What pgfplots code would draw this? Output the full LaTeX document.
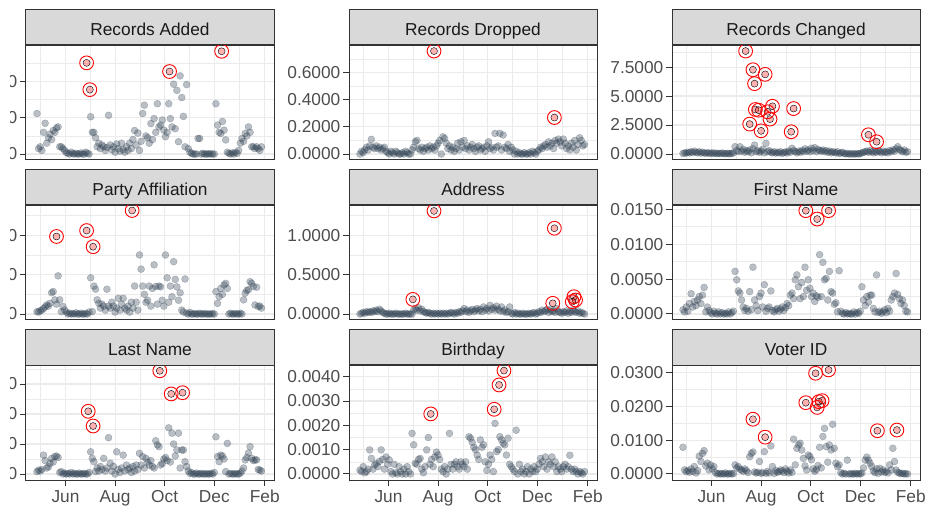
\documentclass[border=0pt]{standalone}
\usepackage{pgfplots}
\usepackage{pgfplotstable}
\pgfplotsset{compat=1.18}
\usepackage{fontspec}
\setmainfont{Liberation Sans}

\definecolor{pt}{HTML}{2C3E50}
\definecolor{gridc}{HTML}{EBEBEB}
\definecolor{frame}{HTML}{333333}
\definecolor{strip}{HTML}{D9D9D9}
\definecolor{tlab}{HTML}{4D4D4D}
\definecolor{stxt}{HTML}{1A1A1A}
\definecolor{hi}{HTML}{FF0000}

% daily share per check, days counted from 1 Jan (Jun=151 ... Feb=396)
\pgfplotstableread[row sep=\\]{d v\\
116 1.12\\ 118 0.15\\ 120 0.2\\ 122 0.1\\ 124 0.6\\ 126 0.85\\ 128 0.3\\ 130 0.45\\ 132 0.55\\ 134 0.4\\ 136 0.65\\ 138 0.6\\ 140 0.72\\ 142 0.75\\ 144 0.2\\ 146 0.2\\ 148 0.15\\ 150 0.1\\ 152 0.04\\ 154 0.02\\ 156 0.0\\ 158 0.05\\ 160 0.01\\ 162 0.0\\ 164 0.02\\ 166 0.0\\ 168 0.0\\ 170 0.03\\ 172 0.0\\ 174 0.0\\ 176 0.05\\ 178 0.02\\ 180 0.0\\ 182 1.03\\ 184 0.6\\ 186 0.6\\ 188 0.45\\ 190 0.2\\ 192 0.3\\ 194 0.15\\ 196 0.25\\ 198 0.2\\ 200 0.1\\ 202 0.18\\ 204 1.07\\ 206 0.25\\ 208 0.12\\ 210 0.2\\ 212 0.05\\ 214 0.28\\ 216 0.15\\ 218 0.08\\ 220 0.3\\ 222 0.12\\ 224 0.05\\ 226 0.2\\ 228 0.1\\ 230 0.3\\ 232 0.15\\ 234 0.4\\ 236 0.65\\ 238 0.25\\ 240 0.58\\ 242 0.1\\ 244 0.35\\ 246 1.12\\ 248 1.35\\ 250 0.5\\ 252 0.45\\ 254 0.3\\ 256 0.84\\ 258 0.4\\ 260 0.98\\ 262 0.6\\ 264 1.39\\ 266 0.75\\ 268 0.8\\ 270 0.94\\ 272 0.66\\ 274 0.48\\ 276 0.6\\ 278 1.39\\ 280 0.98\\ 282 0.75\\ 284 1.93\\ 286 0.7\\ 288 1.76\\ 290 0.34\\ 292 2.16\\ 294 1.56\\ 296 1.04\\ 298 0.2\\ 300 1.92\\ 302 0.15\\ 304 0.05\\ 306 0.02\\ 308 0.0\\ 310 0.0\\ 312 0.0\\ 314 0.43\\ 316 0.43\\ 318 0.0\\ 320 0.02\\ 322 0.0\\ 324 0.0\\ 326 0.0\\ 328 0.01\\ 330 0.0\\ 332 0.0\\ 334 0.0\\ 336 1.39\\ 338 0.8\\ 340 0.6\\ 342 0.57\\ 344 0.9\\ 346 0.66\\ 348 0.39\\ 350 0.05\\ 352 0.02\\ 354 0.0\\ 356 0.03\\ 358 0.0\\ 360 0.05\\ 362 0.02\\ 364 0.1\\ 366 0.3\\ 368 0.43\\ 370 0.35\\ 372 0.57\\ 374 0.5\\ 376 0.75\\ 378 0.6\\ 380 0.2\\ 382 0.2\\ 384 0.15\\ 386 0.2\\ 388 0.15\\ 390 0.1\\ 392 0.2\\
}\dA
\pgfplotstableread[row sep=\\]{d v\\ 177 2.52\\ 181 1.78\\ 279 2.28\\ 343 2.84\\}\oA

\pgfplotstableread[row sep=\\]{d v\\
116 0.0\\ 118 0.02\\ 120 0.01\\ 122 0.03\\ 124 0.05\\ 126 0.03\\ 128 0.06\\ 130 0.108\\ 132 0.05\\ 134 0.04\\ 136 0.06\\ 138 0.04\\ 140 0.05\\ 142 0.03\\ 144 0.04\\ 146 0.05\\ 148 0.02\\ 150 0.01\\ 152 0.0\\ 154 0.02\\ 156 0.01\\ 158 0.0\\ 160 0.02\\ 162 0.01\\ 164 0.0\\ 166 0.0\\ 168 0.01\\ 170 0.0\\ 172 0.02\\ 174 0.01\\ 176 0.0\\ 178 0.0\\ 180 0.03\\ 182 0.05\\ 184 0.09\\ 186 0.1\\ 188 0.04\\ 190 0.03\\ 192 0.05\\ 194 0.02\\ 196 0.04\\ 198 0.05\\ 200 0.03\\ 202 0.06\\ 204 0.04\\ 206 0.05\\ 208 0.03\\ 210 0.06\\ 212 0.08\\ 214 0.1\\ 216 0.0\\ 218 0.127\\ 220 0.115\\ 222 0.08\\ 224 0.04\\ 226 0.06\\ 228 0.03\\ 230 0.05\\ 232 0.02\\ 234 0.04\\ 236 0.08\\ 238 0.03\\ 240 0.09\\ 242 0.05\\ 244 0.1\\ 246 0.04\\ 248 0.06\\ 250 0.03\\ 252 0.05\\ 254 0.07\\ 256 0.04\\ 258 0.02\\ 260 0.05\\ 262 0.06\\ 264 0.03\\ 266 0.04\\ 268 0.05\\ 270 0.02\\ 272 0.06\\ 274 0.09\\ 276 0.04\\ 278 0.05\\ 280 0.03\\ 282 0.152\\ 284 0.05\\ 286 0.06\\ 288 0.152\\ 290 0.03\\ 292 0.14\\ 294 0.05\\ 296 0.04\\ 298 0.07\\ 300 0.02\\ 302 0.05\\ 304 0.03\\ 306 0.0\\ 308 0.02\\ 310 0.0\\ 312 0.01\\ 314 0.0\\ 316 0.0\\ 318 0.01\\ 320 0.0\\ 322 0.0\\ 324 0.01\\ 326 0.0\\ 328 0.02\\ 330 0.01\\ 332 0.0\\ 334 0.02\\ 336 0.03\\ 338 0.05\\ 340 0.04\\ 342 0.06\\ 344 0.07\\ 346 0.05\\ 348 0.09\\ 350 0.06\\ 352 0.08\\ 354 0.04\\ 356 0.1\\ 358 0.08\\ 360 0.11\\ 362 0.09\\ 364 0.06\\ 366 0.11\\ 368 0.08\\ 370 0.04\\ 372 0.06\\ 374 0.03\\ 376 0.08\\ 378 0.05\\ 380 0.1\\ 382 0.03\\ 384 0.07\\ 386 0.12\\ 388 0.1\\ 390 0.06\\ 392 0.07\\
}\dB
\pgfplotstableread[row sep=\\]{d v\\ 207 0.759\\ 355 0.269\\}\oB

\pgfplotstableread[row sep=\\]{d v\\
116 0.05\\ 118 0.1\\ 120 0.08\\ 122 0.15\\ 124 0.1\\ 126 0.2\\ 128 0.12\\ 130 0.25\\ 132 0.15\\ 134 0.1\\ 136 0.2\\ 138 0.08\\ 140 0.15\\ 142 0.1\\ 144 0.05\\ 146 0.12\\ 148 0.08\\ 150 0.05\\ 152 0.1\\ 154 0.05\\ 156 0.08\\ 158 0.03\\ 160 0.06\\ 162 0.04\\ 164 0.08\\ 166 0.05\\ 168 0.02\\ 170 0.06\\ 172 0.04\\ 174 0.03\\ 176 0.05\\ 178 0.1\\ 180 0.63\\ 182 0.3\\ 184 0.2\\ 186 0.63\\ 188 0.25\\ 190 0.4\\ 192 0.15\\ 194 0.3\\ 196 0.2\\ 198 0.35\\ 200 0.1\\ 202 0.45\\ 204 0.77\\ 206 0.2\\ 208 0.3\\ 210 0.15\\ 212 0.25\\ 214 0.4\\ 216 0.1\\ 218 0.92\\ 220 0.2\\ 222 0.3\\ 224 0.15\\ 226 0.1\\ 228 0.2\\ 230 0.08\\ 232 0.15\\ 234 0.1\\ 236 0.2\\ 238 0.05\\ 240 0.12\\ 242 0.18\\ 244 0.1\\ 246 0.25\\ 248 0.15\\ 250 0.5\\ 252 0.3\\ 254 0.2\\ 256 0.1\\ 258 0.25\\ 260 0.15\\ 262 0.3\\ 264 0.2\\ 266 0.45\\ 268 0.25\\ 270 0.35\\ 272 0.2\\ 274 0.5\\ 276 0.3\\ 278 0.55\\ 280 0.2\\ 282 0.4\\ 284 0.3\\ 286 0.25\\ 288 0.35\\ 290 0.2\\ 292 0.3\\ 294 0.15\\ 296 0.25\\ 298 0.1\\ 300 0.2\\ 302 0.15\\ 304 0.1\\ 306 0.2\\ 308 0.05\\ 310 0.1\\ 312 0.15\\ 314 0.05\\ 316 0.02\\ 318 0.05\\ 320 0.0\\ 322 0.03\\ 324 0.0\\ 326 0.02\\ 328 0.0\\ 330 0.04\\ 332 0.01\\ 334 0.05\\ 336 0.1\\ 338 0.15\\ 340 0.2\\ 342 0.25\\ 344 0.15\\ 346 0.3\\ 348 0.2\\ 350 0.1\\ 352 0.25\\ 354 0.15\\ 356 0.3\\ 358 0.2\\ 360 0.1\\ 362 0.25\\ 364 0.15\\ 366 0.2\\ 368 0.1\\ 370 0.3\\ 372 0.2\\ 374 0.35\\ 376 0.25\\ 378 0.45\\ 380 0.63\\ 382 0.4\\ 384 0.3\\ 386 0.2\\ 388 0.35\\ 390 0.15\\ 392 0.2\\
}\dC
\pgfplotstableread[row sep=\\]{d v\\ 193 8.88\\ 202 7.27\\ 217 6.87\\ 204 6.07\\ 205 3.84\\ 209 3.78\\ 226 4.12\\ 220 3.64\\ 223 3.01\\ 198 2.58\\ 212 2.0\\ 252 3.92\\ 249 1.92\\ 344 1.66\\ 354 1.06\\}\oC

\pgfplotstableread[row sep=\\]{d v\\
116 0.06\\ 118 0.05\\ 120 0.08\\ 122 0.1\\ 124 0.14\\ 126 0.18\\ 128 0.23\\ 130 0.2\\ 132 0.27\\ 134 0.54\\ 136 0.57\\ 138 0.36\\ 140 0.25\\ 142 0.97\\ 144 0.36\\ 146 0.06\\ 148 0.19\\ 150 0.1\\ 152 0.05\\ 154 0.0\\ 156 0.02\\ 158 0.0\\ 160 0.01\\ 162 0.0\\ 164 0.03\\ 166 0.0\\ 168 0.0\\ 170 0.02\\ 172 0.0\\ 174 0.0\\ 176 0.01\\ 178 0.0\\ 180 0.05\\ 182 0.92\\ 184 0.06\\ 186 0.71\\ 188 0.63\\ 190 0.36\\ 192 0.27\\ 194 0.15\\ 196 0.25\\ 198 0.2\\ 200 0.1\\ 202 0.63\\ 204 0.2\\ 206 0.15\\ 208 0.3\\ 210 0.2\\ 212 0.05\\ 214 0.15\\ 216 0.4\\ 218 0.1\\ 220 0.25\\ 222 0.4\\ 224 0.15\\ 226 0.1\\ 228 0.2\\ 230 0.05\\ 232 0.3\\ 234 0.15\\ 236 0.71\\ 238 0.3\\ 240 0.1\\ 242 1.5\\ 244 1.14\\ 246 0.71\\ 248 0.5\\ 250 0.3\\ 252 0.35\\ 254 0.71\\ 256 0.2\\ 258 0.65\\ 260 1.25\\ 262 0.7\\ 264 0.25\\ 266 0.71\\ 268 0.69\\ 270 0.35\\ 272 0.2\\ 274 1.5\\ 276 0.92\\ 278 0.3\\ 280 0.71\\ 282 0.44\\ 284 1.33\\ 286 0.88\\ 288 0.69\\ 290 0.35\\ 292 0.54\\ 294 0.1\\ 296 0.05\\ 298 0.89\\ 300 0.02\\ 302 0.0\\ 304 0.04\\ 306 0.0\\ 308 0.0\\ 310 0.01\\ 312 0.0\\ 314 0.0\\ 316 0.02\\ 318 0.0\\ 320 0.0\\ 322 0.01\\ 324 0.0\\ 326 0.0\\ 328 0.0\\ 330 0.0\\ 332 0.01\\ 334 0.0\\ 336 0.57\\ 338 0.27\\ 340 0.44\\ 342 0.65\\ 344 0.5\\ 346 0.74\\ 348 0.78\\ 350 0.65\\ 352 0.0\\ 354 0.02\\ 356 0.0\\ 358 0.0\\ 360 0.01\\ 362 0.0\\ 364 0.0\\ 366 0.02\\ 368 0.0\\ 370 0.36\\ 372 0.53\\ 374 0.6\\ 376 0.62\\ 378 0.82\\ 380 0.78\\ 382 0.7\\ 384 0.23\\ 386 0.68\\ 388 0.19\\ 390 0.2\\ 392 0.15\\
}\dD
\pgfplotstableread[row sep=\\]{d v\\ 140 1.97\\ 177 2.12\\ 185 1.71\\ 233 2.63\\}\oD

\pgfplotstableread[row sep=\\]{d v\\
116 0.0\\ 118 0.01\\ 120 0.02\\ 122 0.01\\ 124 0.03\\ 126 0.02\\ 128 0.03\\ 130 0.02\\ 132 0.04\\ 134 0.03\\ 136 0.05\\ 138 0.03\\ 140 0.06\\ 142 0.04\\ 144 0.02\\ 146 0.01\\ 148 0.0\\ 150 0.0\\ 152 0.01\\ 154 0.0\\ 156 0.0\\ 158 0.0\\ 160 0.01\\ 162 0.0\\ 164 0.0\\ 166 0.0\\ 168 0.0\\ 170 0.0\\ 172 0.01\\ 174 0.0\\ 176 0.0\\ 178 0.0\\ 180 0.0\\ 182 0.05\\ 184 0.07\\ 186 0.05\\ 188 0.08\\ 190 0.04\\ 192 0.06\\ 194 0.03\\ 196 0.02\\ 198 0.01\\ 200 0.02\\ 202 0.01\\ 204 0.0\\ 206 0.01\\ 208 0.0\\ 210 0.01\\ 212 0.0\\ 214 0.01\\ 216 0.0\\ 218 0.01\\ 220 0.0\\ 222 0.01\\ 224 0.0\\ 226 0.01\\ 228 0.02\\ 230 0.01\\ 232 0.0\\ 234 0.02\\ 236 0.01\\ 238 0.03\\ 240 0.02\\ 242 0.04\\ 244 0.07\\ 246 0.03\\ 248 0.05\\ 250 0.02\\ 252 0.04\\ 254 0.06\\ 256 0.03\\ 258 0.05\\ 260 0.07\\ 262 0.04\\ 264 0.06\\ 266 0.03\\ 268 0.09\\ 270 0.05\\ 272 0.07\\ 274 0.04\\ 276 0.11\\ 278 0.06\\ 280 0.08\\ 282 0.05\\ 284 0.1\\ 286 0.06\\ 288 0.04\\ 290 0.09\\ 292 0.03\\ 294 0.05\\ 296 0.02\\ 298 0.03\\ 300 0.09\\ 302 0.01\\ 304 0.0\\ 306 0.02\\ 308 0.0\\ 310 0.01\\ 312 0.0\\ 314 0.0\\ 316 0.01\\ 318 0.0\\ 320 0.0\\ 322 0.0\\ 324 0.01\\ 326 0.0\\ 328 0.01\\ 330 0.02\\ 332 0.0\\ 334 0.01\\ 336 0.03\\ 338 0.02\\ 340 0.05\\ 342 0.03\\ 344 0.04\\ 346 0.06\\ 348 0.02\\ 350 0.05\\ 352 0.03\\ 354 0.04\\ 356 0.02\\ 358 0.07\\ 360 0.03\\ 362 0.02\\ 364 0.01\\ 366 0.03\\ 368 0.02\\ 370 0.04\\ 372 0.01\\ 374 0.03\\ 376 0.02\\ 378 0.05\\ 380 0.03\\ 382 0.02\\ 384 0.04\\ 386 0.01\\ 388 0.02\\ 390 0.01\\ 392 0.0\\
}\dE
\pgfplotstableread[row sep=\\]{d v\\ 181 0.186\\ 207 1.31\\ 355 1.09\\ 353 0.136\\ 379 0.22\\ 381 0.178\\ 377 0.157\\}\oE

\pgfplotstableread[row sep=\\]{d v\\
116 0.0006\\ 118 0.0003\\ 120 0.001\\ 122 0.0004\\ 124 0.0015\\ 126 0.0029\\ 128 0.001\\ 130 0.0018\\ 132 0.0012\\ 134 0.002\\ 136 0.0025\\ 138 0.0015\\ 140 0.0027\\ 142 0.0038\\ 144 0.0003\\ 146 0.001\\ 148 0.0005\\ 150 0.0002\\ 152 0.0\\ 154 0.0004\\ 156 0.0001\\ 158 0.0\\ 160 0.0003\\ 162 0.0\\ 164 0.0002\\ 166 0.0\\ 168 0.0001\\ 170 0.0\\ 172 0.0003\\ 174 0.0\\ 176 0.0002\\ 178 0.0004\\ 180 0.0061\\ 182 0.0049\\ 184 0.0033\\ 186 0.003\\ 188 0.002\\ 190 0.001\\ 192 0.0005\\ 194 0.0008\\ 196 0.0004\\ 198 0.0032\\ 200 0.0006\\ 202 0.0067\\ 204 0.002\\ 206 0.0012\\ 208 0.0005\\ 210 0.0025\\ 212 0.003\\ 214 0.001\\ 216 0.0042\\ 218 0.0004\\ 220 0.0008\\ 222 0.001\\ 224 0.0033\\ 226 0.0005\\ 228 0.0003\\ 230 0.0006\\ 232 0.0008\\ 234 0.0004\\ 236 0.0007\\ 238 0.001\\ 240 0.0005\\ 242 0.0009\\ 244 0.0015\\ 246 0.0012\\ 248 0.0027\\ 250 0.003\\ 252 0.0022\\ 254 0.0049\\ 256 0.0056\\ 258 0.0039\\ 260 0.0022\\ 262 0.0045\\ 264 0.0025\\ 266 0.0067\\ 268 0.0034\\ 270 0.0049\\ 272 0.0037\\ 274 0.0025\\ 276 0.003\\ 278 0.0018\\ 280 0.0026\\ 282 0.0024\\ 284 0.0085\\ 286 0.0025\\ 288 0.0074\\ 290 0.0049\\ 292 0.0051\\ 294 0.002\\ 296 0.0061\\ 298 0.0032\\ 300 0.003\\ 302 0.0014\\ 304 0.0016\\ 306 0.0003\\ 308 0.0062\\ 310 0.0004\\ 312 0.0001\\ 314 0.0\\ 316 0.0002\\ 318 0.0\\ 320 0.0001\\ 322 0.0\\ 324 0.0\\ 326 0.0003\\ 328 0.0\\ 330 0.0002\\ 332 0.0001\\ 334 0.0004\\ 336 0.0039\\ 338 0.002\\ 340 0.0012\\ 342 0.0025\\ 344 0.0017\\ 346 0.0027\\ 348 0.0027\\ 350 0.0008\\ 352 0.0003\\ 354 0.0056\\ 356 0.0002\\ 358 0.0004\\ 360 0.0001\\ 362 0.0003\\ 364 0.0006\\ 366 0.0002\\ 368 0.0008\\ 370 0.0004\\ 372 0.002\\ 374 0.0025\\ 376 0.003\\ 378 0.0058\\ 380 0.0028\\ 382 0.0022\\ 384 0.0015\\ 386 0.002\\ 388 0.0012\\ 390 0.0004\\ 392 0.0003\\
}\dF
\pgfplotstableread[row sep=\\]{d v\\ 267 0.0148\\ 281 0.0136\\ 295 0.0148\\}\oF

\pgfplotstableread[row sep=\\]{d v\\
116 0.08\\ 118 0.13\\ 120 0.1\\ 122 0.15\\ 124 0.63\\ 126 0.45\\ 128 0.2\\ 130 0.24\\ 132 0.35\\ 134 0.52\\ 136 0.4\\ 138 0.58\\ 140 0.6\\ 142 0.55\\ 144 0.05\\ 146 0.08\\ 148 0.0\\ 150 0.03\\ 152 0.0\\ 154 0.02\\ 156 0.0\\ 158 0.05\\ 160 0.0\\ 162 0.02\\ 164 0.0\\ 166 0.0\\ 168 0.03\\ 170 0.0\\ 172 0.0\\ 174 0.02\\ 176 0.0\\ 178 0.0\\ 180 0.05\\ 182 0.74\\ 184 0.52\\ 186 0.41\\ 188 0.08\\ 190 0.2\\ 192 0.1\\ 194 0.25\\ 196 0.15\\ 198 0.52\\ 200 0.1\\ 202 0.2\\ 204 1.21\\ 206 0.36\\ 208 0.1\\ 210 0.25\\ 212 0.0\\ 214 0.74\\ 216 0.15\\ 218 0.05\\ 220 0.2\\ 222 0.63\\ 224 0.1\\ 226 0.3\\ 228 0.15\\ 230 0.2\\ 232 0.05\\ 234 0.25\\ 236 0.1\\ 238 0.3\\ 240 0.15\\ 242 0.69\\ 244 0.3\\ 246 0.58\\ 248 0.2\\ 250 0.52\\ 252 0.4\\ 254 0.3\\ 256 0.45\\ 258 0.25\\ 260 0.2\\ 262 1.11\\ 264 0.97\\ 266 0.91\\ 268 0.3\\ 270 0.35\\ 272 0.5\\ 274 0.55\\ 276 0.45\\ 278 1.54\\ 280 0.4\\ 282 1.36\\ 284 1.0\\ 286 0.6\\ 288 0.8\\ 290 1.36\\ 292 0.2\\ 294 0.8\\ 296 0.8\\ 298 0.41\\ 300 0.25\\ 302 0.1\\ 304 0.02\\ 306 0.05\\ 308 0.0\\ 310 0.0\\ 312 0.03\\ 314 0.0\\ 316 0.0\\ 318 0.02\\ 320 0.0\\ 322 0.0\\ 324 0.01\\ 326 0.0\\ 328 0.0\\ 330 0.02\\ 332 0.0\\ 334 0.05\\ 336 1.24\\ 338 0.58\\ 340 0.41\\ 342 0.63\\ 344 0.6\\ 346 0.5\\ 348 0.08\\ 350 1.02\\ 352 0.0\\ 354 0.02\\ 356 0.0\\ 358 0.0\\ 360 0.01\\ 362 0.0\\ 364 0.0\\ 366 0.03\\ 368 0.1\\ 370 0.2\\ 372 0.47\\ 374 0.55\\ 376 0.7\\ 378 0.91\\ 380 0.52\\ 382 0.45\\ 384 0.47\\ 386 0.47\\ 388 0.15\\ 390 0.13\\ 392 0.1\\
}\dG
\pgfplotstableread[row sep=\\]{d v\\ 179 2.09\\ 185 1.6\\ 267 3.44\\ 281 2.67\\ 295 2.71\\}\oG

\pgfplotstableread[row sep=\\]{d v\\
116 0.00016\\ 118 0.0001\\ 120 0.0003\\ 122 0.00005\\ 124 0.0001\\ 126 0.0002\\ 128 0.00099\\ 130 0.00064\\ 132 0.0002\\ 134 0.00037\\ 136 0.00044\\ 138 0.0003\\ 140 0.00052\\ 142 0.00099\\ 144 0.0006\\ 146 0.0002\\ 148 0.0007\\ 150 0.0004\\ 152 0.00058\\ 154 0.0001\\ 156 0.0\\ 158 0.0004\\ 160 0.00005\\ 162 0.0\\ 164 0.0003\\ 166 0.0001\\ 168 0.0\\ 170 0.0002\\ 172 0.0\\ 174 0.0003\\ 176 0.0001\\ 178 0.0\\ 180 0.00167\\ 182 0.0012\\ 184 0.00044\\ 186 0.0004\\ 188 0.0006\\ 190 0.00064\\ 192 0.0002\\ 194 0.00005\\ 196 0.0003\\ 198 0.00099\\ 200 0.0015\\ 202 0.0004\\ 204 0.0006\\ 206 0.0003\\ 208 0.0007\\ 210 0.0009\\ 212 0.00078\\ 214 0.0006\\ 216 0.0002\\ 218 0.0001\\ 220 0.0003\\ 222 0.0\\ 224 0.0002\\ 226 0.00167\\ 228 0.0004\\ 230 0.0002\\ 232 0.0004\\ 234 0.0005\\ 236 0.0003\\ 238 0.0002\\ 240 0.0005\\ 242 0.0004\\ 244 0.0003\\ 246 0.0005\\ 248 0.0002\\ 250 0.00153\\ 252 0.00147\\ 254 0.0013\\ 256 0.0011\\ 258 0.001\\ 260 0.00078\\ 262 0.0006\\ 264 0.0014\\ 266 0.0011\\ 268 0.0012\\ 270 0.0005\\ 272 0.00015\\ 274 0.0004\\ 276 0.00078\\ 278 0.0006\\ 280 0.0001\\ 282 0.00208\\ 284 0.00092\\ 286 0.001\\ 288 0.00153\\ 290 0.0014\\ 292 0.00126\\ 294 0.0012\\ 296 0.00078\\ 298 0.00147\\ 300 0.0004\\ 302 0.0003\\ 304 0.0002\\ 306 0.0001\\ 308 0.0018\\ 310 0.0\\ 312 0.0004\\ 314 0.0001\\ 316 0.0002\\ 318 0.0\\ 320 0.0001\\ 322 0.0003\\ 324 0.0\\ 326 0.0002\\ 328 0.0001\\ 330 0.0003\\ 332 0.0001\\ 334 0.0002\\ 336 0.0004\\ 338 0.00064\\ 340 0.0005\\ 342 0.0003\\ 344 0.0007\\ 346 0.0002\\ 348 0.0005\\ 350 0.0004\\ 352 0.0007\\ 354 0.0003\\ 356 0.0005\\ 358 0.0001\\ 360 0.0003\\ 362 0.0002\\ 364 0.0001\\ 366 0.0003\\ 368 0.0004\\ 370 0.0002\\ 372 0.0003\\ 374 0.00077\\ 376 0.0002\\ 378 0.0001\\ 380 0.0002\\ 382 0.0001\\ 384 0.0\\ 386 0.0001\\ 388 0.00005\\ 390 0.0\\ 392 0.0001\\
}\dH
\pgfplotstableread[row sep=\\]{d v\\ 203 0.00247\\ 281 0.00266\\ 287 0.00366\\ 293 0.00425\\}\oH

\pgfplotstableread[row sep=\\]{d v\\
116 0.0079\\ 118 0.0012\\ 120 0.0007\\ 122 0.001\\ 124 0.0005\\ 126 0.0015\\ 128 0.0008\\ 130 0.0022\\ 132 0.0003\\ 134 0.001\\ 136 0.0053\\ 138 0.0037\\ 140 0.0061\\ 142 0.0069\\ 144 0.0024\\ 146 0.0032\\ 148 0.0012\\ 150 0.0027\\ 152 0.0015\\ 154 0.0022\\ 156 0.0004\\ 158 0.0\\ 160 0.0002\\ 162 0.0\\ 164 0.0001\\ 166 0.0\\ 168 0.0003\\ 170 0.0\\ 172 0.0\\ 174 0.0002\\ 176 0.0\\ 178 0.0001\\ 180 0.0027\\ 182 0.0018\\ 184 0.0022\\ 186 0.0014\\ 188 0.0012\\ 190 0.0008\\ 192 0.0015\\ 194 0.001\\ 196 0.0004\\ 198 0.0051\\ 200 0.0061\\ 202 0.0065\\ 204 0.0006\\ 206 0.0003\\ 208 0.0005\\ 210 0.0037\\ 212 0.0002\\ 214 0.0004\\ 216 0.0066\\ 218 0.0002\\ 220 0.0008\\ 222 0.0003\\ 224 0.0083\\ 226 0.0022\\ 228 0.0002\\ 230 0.001\\ 232 0.0005\\ 234 0.0007\\ 236 0.0012\\ 238 0.0009\\ 240 0.0004\\ 242 0.0015\\ 244 0.0008\\ 246 0.0003\\ 248 0.0012\\ 250 0.0005\\ 252 0.0103\\ 254 0.0027\\ 256 0.0076\\ 258 0.0086\\ 260 0.0091\\ 262 0.0071\\ 264 0.0046\\ 266 0.0024\\ 268 0.0012\\ 270 0.0056\\ 272 0.0052\\ 274 0.0042\\ 276 0.0015\\ 278 0.0008\\ 280 0.0013\\ 282 0.0025\\ 284 0.0079\\ 286 0.0018\\ 288 0.0111\\ 290 0.0135\\ 292 0.0081\\ 294 0.0035\\ 296 0.0086\\ 298 0.0071\\ 300 0.0147\\ 302 0.0076\\ 304 0.0032\\ 306 0.0022\\ 308 0.0027\\ 310 0.0004\\ 312 0.0\\ 314 0.0002\\ 316 0.0\\ 318 0.0041\\ 320 0.0\\ 322 0.0001\\ 324 0.0\\ 326 0.0\\ 328 0.0002\\ 330 0.0\\ 332 0.0001\\ 334 0.0\\ 336 0.0003\\ 338 0.0018\\ 340 0.0041\\ 342 0.005\\ 344 0.0041\\ 346 0.0032\\ 348 0.0022\\ 350 0.0009\\ 352 0.0004\\ 354 0.0015\\ 356 0.0002\\ 358 0.0017\\ 360 0.0006\\ 362 0.0012\\ 364 0.0005\\ 366 0.0008\\ 368 0.0003\\ 370 0.0027\\ 372 0.0012\\ 374 0.0076\\ 376 0.0037\\ 378 0.0012\\ 380 0.0005\\ 382 0.0003\\ 384 0.0001\\ 386 0.0002\\ 388 0.0\\ 390 0.0001\\ 392 0.0\\
}\dI
\pgfplotstableread[row sep=\\]{d v\\ 202 0.0162\\ 217 0.0109\\ 267 0.0211\\ 279 0.0298\\ 281 0.0197\\ 283 0.0214\\ 287 0.0217\\ 295 0.0308\\ 355 0.0128\\ 379 0.013\\}\oI

\newcommand{\fsz}{\fontsize{17.3}{20}\selectfont}

\pgfplotsset{
  panel/.style={
    scale only axis, width=248pt, height=114.5pt,
    anchor=south west,
    xmin=102.5, xmax=407.4,
    xtick={151,212,273,334,396},
    xticklabels={Jun,Aug,Oct,Dec,Feb},
    minor xtick={120.5,181.5,242.5,303.5,365},
    xmajorgrids, xminorgrids, ymajorgrids, yminorgrids,
    major grid style={draw=gridc, line width=1.1pt},
    minor grid style={draw=gridc, line width=0.6pt},
    axis line style={draw=frame, line width=1pt},
    tick align=outside, tick pos=left,
    major tick length=6pt, minor tick length=0pt,
    every tick/.style={draw=frame, line width=1pt},
    tick label style={font=\fsz, text=tlab},
    xticklabel style={inner sep=4pt},
    yticklabel style={inner sep=2.5pt,
      /pgf/number format/fixed, /pgf/number format/fixed zerofill,
      /pgf/number format/precision=4, /pgf/number format/assume math mode=true},
    scaled y ticks=false,
    every axis title/.style={at={(0.5,1)}, anchor=south, draw=frame, fill=strip,
      line width=1pt, minimum width=248pt, minimum height=35.5pt, inner sep=0pt,
      text height=16.5pt, text depth=0pt, text=stxt, font=\fsz},
  },
  noxt/.style={xmajorticks=false},
  base/.style={only marks, mark=*, mark size=3.5pt,
    mark options={draw=pt, fill=pt, draw opacity=0.33, fill opacity=0.33, line width=0.4pt}},
  hidot/.style={only marks, mark=*, mark size=3.5pt,
    mark options={draw=none, fill=hi, fill opacity=0.3}},
  hiring/.style={only marks, mark=o, mark size=6.9pt,
    mark options={draw=hi, line width=0.9pt}},
}

\begin{document}
\begin{tikzpicture}
\useasboundingbox (0pt,0pt) rectangle (928pt,506pt);
\clip (10pt,0pt) rectangle (928pt,506pt);

% row 1
\begin{axis}[panel, noxt, at={(26pt,346pt)}, title={Records Added},
  ymin=-0.165, ymax=3.0, ytick={0,1,2}, minor ytick={0.5,1.5,2.5}]
\addplot[base] table[x=d,y=v]{\dA};
\addplot[hidot] table[x=d,y=v]{\oA};
\addplot[hiring] table[x=d,y=v]{\oA};
\end{axis}
\begin{axis}[panel, noxt, at={(349pt,346pt)}, title={Records Dropped},
  ymin=-0.044, ymax=0.80, ytick={0,0.2,0.4,0.6}, minor ytick={0.1,0.3,0.5,0.7}]
\addplot[base] table[x=d,y=v]{\dB};
\addplot[hidot] table[x=d,y=v]{\oB};
\addplot[hiring] table[x=d,y=v]{\oB};
\end{axis}
\begin{axis}[panel, noxt, at={(672pt,346pt)}, title={Records Changed},
  ymin=-0.515, ymax=9.36, ytick={0,2.5,5,7.5}, minor ytick={1.25,3.75,6.25,8.75}]
\addplot[base] table[x=d,y=v]{\dC};
\addplot[hidot] table[x=d,y=v]{\oC};
\addplot[hiring] table[x=d,y=v]{\oC};
\end{axis}

% row 2
\begin{axis}[panel, noxt, at={(26pt,186pt)}, title={Party Affiliation},
  ymin=-0.152, ymax=2.757, ytick={0,1,2}, minor ytick={0.5,1.5,2.5}]
\addplot[base] table[x=d,y=v]{\dD};
\addplot[hidot] table[x=d,y=v]{\oD};
\addplot[hiring] table[x=d,y=v]{\oD};
\end{axis}
\begin{axis}[panel, noxt, at={(349pt,186pt)}, title={Address},
  ymin=-0.076, ymax=1.379, ytick={0,0.5,1}, minor ytick={0.25,0.75,1.25}]
\addplot[base] table[x=d,y=v]{\dE};
\addplot[hidot] table[x=d,y=v]{\oE};
\addplot[hiring] table[x=d,y=v]{\oE};
\end{axis}
\begin{axis}[panel, noxt, at={(672pt,186pt)}, title={First Name},
  ymin=-0.00086, ymax=0.01554, ytick={0,0.005,0.01,0.015}, minor ytick={0.0025,0.0075,0.0125}]
\addplot[base] table[x=d,y=v]{\dF};
\addplot[hidot] table[x=d,y=v]{\oF};
\addplot[hiring] table[x=d,y=v]{\oF};
\end{axis}

% row 3
\begin{axis}[panel, at={(26pt,26pt)}, title={Last Name},
  ymin=-0.2, ymax=3.617, ytick={0,1,2,3}, minor ytick={0.5,1.5,2.5,3.5}]
\addplot[base] table[x=d,y=v]{\dG};
\addplot[hidot] table[x=d,y=v]{\oG};
\addplot[hiring] table[x=d,y=v]{\oG};
\end{axis}
\begin{axis}[panel, at={(349pt,26pt)}, title={Birthday},
  ymin=-0.000247, ymax=0.00446, ytick={0,0.001,0.002,0.003,0.004}, minor ytick={0.0005,0.0015,0.0025,0.0035}]
\addplot[base] table[x=d,y=v]{\dH};
\addplot[hidot] table[x=d,y=v]{\oH};
\addplot[hiring] table[x=d,y=v]{\oH};
\end{axis}
\begin{axis}[panel, at={(672pt,26pt)}, title={Voter ID},
  ymin=-0.00178, ymax=0.0321, ytick={0,0.01,0.02,0.03}, minor ytick={0.005,0.015,0.025}]
\addplot[base] table[x=d,y=v]{\dI};
\addplot[hidot] table[x=d,y=v]{\oI};
\addplot[hiring] table[x=d,y=v]{\oI};
\end{axis}
\end{tikzpicture}
\end{document}
